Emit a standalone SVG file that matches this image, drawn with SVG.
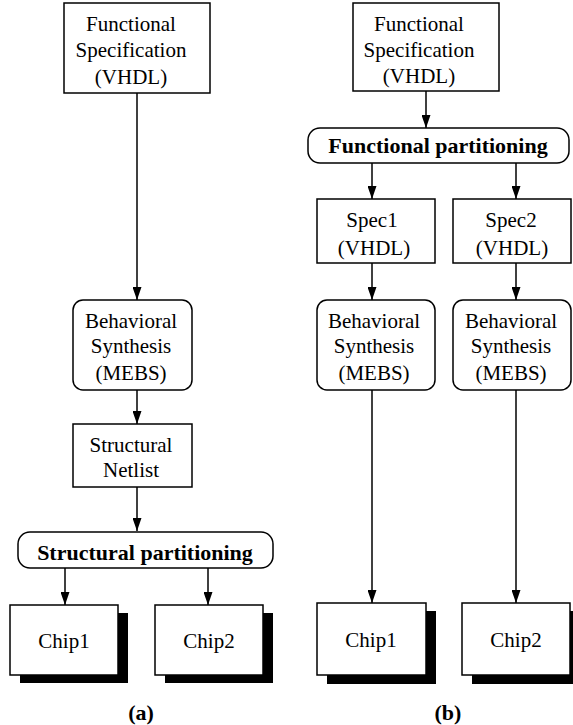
<svg xmlns="http://www.w3.org/2000/svg" width="573" height="725" viewBox="0 0 573 725">
<defs>
<style>
.box{fill:#fff;stroke:#000;stroke-width:1.5}
.shadow{fill:#000}
.edge{stroke:#000;stroke-width:1.5;fill:none;marker-end:url(#ah)}
</style>
<marker id="ah" viewBox="0 0 13 9" refX="13" refY="4.5" markerWidth="13" markerHeight="9" markerUnits="userSpaceOnUse" orient="auto">
<path d="M0,0 L13,4.5 L0,9 Z" fill="#000"/>
</marker>
</defs>
<rect width="573" height="725" fill="#fff"/>
<g id="connectors">
<line class="edge" x1="137" y1="93" x2="137" y2="300"/>
<line class="edge" x1="137" y1="390" x2="137" y2="424"/>
<line class="edge" x1="137" y1="487" x2="137" y2="531"/>
<line class="edge" x1="65" y1="568" x2="65" y2="605"/>
<line class="edge" x1="208" y1="568" x2="208" y2="605"/>
<line class="edge" x1="426" y1="91" x2="426" y2="128"/>
<line class="edge" x1="372" y1="163" x2="372" y2="199"/>
<line class="edge" x1="516" y1="163" x2="516" y2="199"/>
<line class="edge" x1="372" y1="263" x2="372" y2="300"/>
<line class="edge" x1="516" y1="263" x2="516" y2="300"/>
<line class="edge" x1="372" y1="390" x2="372" y2="603"/>
<line class="edge" x1="516" y1="390" x2="516" y2="603"/>
</g>
<g font-family="Liberation Serif, Times New Roman, serif" font-size="21" text-anchor="middle" fill="#000">
<g id="a-funcspec">
<rect class="box" x="64" y="3" width="146" height="90"/>
<text x="131" y="31">Functional</text>
<text x="131" y="57">Specification</text>
<text x="131" y="84">(VHDL)</text>
</g>
<g id="a-behav">
<rect class="box" x="73" y="300" width="119" height="90" rx="10"/>
<text x="131" y="328">Behavioral</text>
<text x="131" y="353">Synthesis</text>
<text x="131" y="380">(MEBS)</text>
</g>
<g id="a-netlist">
<rect class="box" x="73" y="424" width="119" height="63"/>
<text x="131" y="452">Structural</text>
<text x="131" y="477">Netlist</text>
</g>
<g id="a-structpart">
<rect class="box" x="18" y="532" width="255" height="36" rx="12"/>
<text x="145" y="560" font-size="22" font-weight="bold">Structural partitioning</text>
</g>
<g id="a-chip1">
<rect class="shadow" x="20" y="613" width="108" height="70"/>
<rect class="box" x="10" y="605" width="108" height="70"/>
<text x="64" y="648">Chip1</text>
</g>
<g id="a-chip2">
<rect class="shadow" x="165" y="613" width="108" height="70"/>
<rect class="box" x="155" y="605" width="108" height="70"/>
<text x="209" y="648">Chip2</text>
</g>
<g id="b-funcspec">
<rect class="box" x="353" y="3" width="146" height="88"/>
<text x="419" y="31">Functional</text>
<text x="419" y="57">Specification</text>
<text x="419" y="83">(VHDL)</text>
</g>
<g id="b-funcpart">
<rect class="box" x="308" y="128" width="261" height="35" rx="12"/>
<text x="438" y="153" font-size="22" font-weight="bold">Functional partitioning</text>
</g>
<g id="b-spec1">
<rect class="box" x="317" y="199" width="118" height="64"/>
<text x="372" y="227">Spec1</text>
<text x="374" y="255">(VHDL)</text>
</g>
<g id="b-spec2">
<rect class="box" x="453" y="199" width="118" height="64"/>
<text x="511" y="227">Spec2</text>
<text x="512" y="255">(VHDL)</text>
</g>
<g id="b-behav1">
<rect class="box" x="317" y="300" width="118" height="90" rx="10"/>
<text x="374" y="328">Behavioral</text>
<text x="374" y="353">Synthesis</text>
<text x="374" y="380">(MEBS)</text>
</g>
<g id="b-behav2">
<rect class="box" x="453" y="300" width="118" height="90" rx="10"/>
<text x="511" y="328">Behavioral</text>
<text x="511" y="353">Synthesis</text>
<text x="511" y="380">(MEBS)</text>
</g>
<g id="b-chip1">
<rect class="shadow" x="327" y="611" width="109" height="73"/>
<rect class="box" x="317" y="603" width="109" height="72"/>
<text x="371" y="647">Chip1</text>
</g>
<g id="b-chip2">
<rect class="shadow" x="472" y="611" width="109" height="73"/>
<rect class="box" x="462" y="603" width="108" height="72"/>
<text x="516" y="647">Chip2</text>
</g>
<g id="labels" font-size="22" font-weight="bold">
<text x="141" y="720">(a)</text>
<text x="448" y="720">(b)</text>
</g>
</g>
</svg>
